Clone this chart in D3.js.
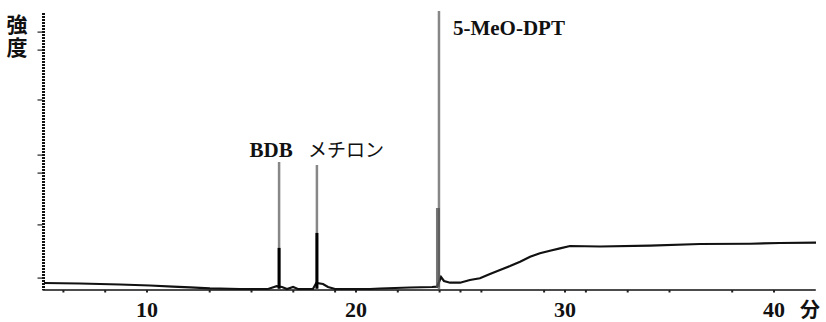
<!DOCTYPE html>
<html>
<head>
<meta charset="utf-8">
<script src="https://cdn.jsdelivr.net/npm/d3@7"></script>
<style>
  body { margin: 0; background: #fff; }
  .tick-label { font-family: "Liberation Serif", serif; font-weight: bold; font-size: 22px; fill: #111; }
  .peak-label { font-family: "Liberation Serif", serif; font-weight: bold; font-size: 21px; fill: #111; }
  .jp { font-family: "Noto Sans CJK JP", sans-serif; fill: #111; }
</style>
</head>
<body>
<div id="chart"></div>
<script>
// retention time (min) and intensity (%) of the baseline trace
var traceTime = [5.07, 6.79, 8.71, 10.14, 11.24, 12.06, 13.01, 14.45, 15.79, 16.08, 16.2, 16.46, 16.7, 16.99, 17.22,
  17.94, 18.1, 18.42, 18.66, 19.0, 20.67, 21.15, 22.58, 23.64, 23.88, 24.07, 24.21, 24.5, 24.98, 25.45, 25.93,
  26.41, 26.89, 27.37, 27.85, 28.33, 28.8, 29.28, 29.76, 30.24, 31.68, 34.07, 36.46, 38.86, 40.29, 42.01];
var traceInt = [2.53, 2.35, 1.99, 1.62, 1.19, 0.97, 0.61, 0.36, 0.36, 1.08, 1.4, 1.08, 0.36, 1.08, 0.36,
  0.36, 2.53, 2.17, 1.08, 0.36, 0.36, 0.54, 0.9, 1.08, 1.2, 4.7, 3.25, 2.64, 2.64, 3.61, 4.22,
  5.78, 7.22, 8.66, 10.22, 12.02, 13.25, 14.19, 15.05, 15.88, 15.7, 15.99, 16.6, 16.7, 16.97, 17.08];

// peaks
var peakNames = ["BDB", "メチロン", "5-MeO-DPT"];
var peakTimes = [16.32, 18.13, 23.97];
var peakTops = [46.2, 45.1, 100.5];
var peakSolid = [15.2, 20.6, 29.6];

// axis ticks
var xLabels = [10, 20, 30, 40];
var xMinor = [6, 8, 10, 13, 15, 17, 19, 20, 22, 24, 25, 26, 29, 30, 31, 33, 35, 38, 40];
var yTicks = [93.1, 86.6, 68.6, 48.7, 42.2, 23.5, 4.3];

var width = 826, height = 322;

var x = d3.scaleLinear().domain([5, 42]).range([42.5, 815.8]);
var y = d3.scaleLinear().domain([0, 100]).range([290, 13]);

var svg = d3.select("#chart").append("svg")
  .attr("width", width)
  .attr("height", height);

// y axis (dotted look of the scanned original)
svg.append("line")
  .attr("x1", x(5) + 1).attr("x2", x(5) + 1)
  .attr("y1", y(100)).attr("y2", y(0))
  .attr("stroke", "#111")
  .attr("stroke-width", 3)
  .attr("stroke-dasharray", "2,1");

svg.selectAll(".ytick")
  .data(yTicks)
  .enter().append("line")
  .attr("class", "ytick")
  .attr("x1", x(5) - 5).attr("x2", x(5))
  .attr("y1", function(d) { return y(d); })
  .attr("y2", function(d) { return y(d); })
  .attr("stroke", "#222")
  .attr("stroke-width", 1.2);

// x axis
svg.append("line")
  .attr("x1", x(5)).attr("x2", x(42))
  .attr("y1", y(0)).attr("y2", y(0))
  .attr("stroke", "#111")
  .attr("stroke-width", 1.6);

svg.selectAll(".xminor")
  .data(xMinor)
  .enter().append("line")
  .attr("class", "xminor")
  .attr("x1", function(d) { return x(d); })
  .attr("x2", function(d) { return x(d); })
  .attr("y1", y(0)).attr("y2", y(0) + 2.5)
  .attr("stroke", "#222")
  .attr("stroke-width", 2);

svg.selectAll(".tick-label")
  .data(xLabels)
  .enter().append("text")
  .attr("class", "tick-label")
  .attr("x", function(d) { return x(d); })
  .attr("y", 317)
  .attr("text-anchor", "middle")
  .text(function(d) { return d; });

svg.append("text")
  .attr("class", "jp")
  .attr("x", 800).attr("y", 317)
  .style("font-size", "20px")
  .style("font-weight", "bold")
  .text("分");

// vertical axis title
svg.append("text")
  .attr("class", "jp")
  .attr("x", 17).attr("y", 14)
  .style("font-size", "21px")
  .style("font-weight", "bold")
  .style("writing-mode", "vertical-rl")
  .style("letter-spacing", "2px")
  .text("強度");

// baseline trace
var trace = traceTime.map(function(t, i) { return [t, traceInt[i]]; });
var line = d3.line()
  .x(function(d) { return x(d[0]); })
  .y(function(d) { return y(d[1]); });

svg.append("path")
  .datum(trace)
  .attr("d", line)
  .attr("fill", "none")
  .attr("stroke", "#111")
  .attr("stroke-width", 2.2);

// peaks: hatched upper part, solid lower part
peakTimes.forEach(function(t, i) {
  var px = x(t);
  svg.append("line")
    .attr("x1", px).attr("x2", px)
    .attr("y1", y(0.5)).attr("y2", y(peakTops[i]))
    .attr("stroke", "#111")
    .attr("stroke-width", 2.5)
    .attr("stroke-dasharray", "1,1");
  if (i < 2) {
    svg.append("line")
      .attr("x1", px).attr("x2", px)
      .attr("y1", y(0.5)).attr("y2", y(peakSolid[i]))
      .attr("stroke", "#000")
      .attr("stroke-width", 3);
  } else {
    svg.append("rect")
      .attr("x", px - 3).attr("width", 4)
      .attr("y", y(peakSolid[i]))
      .attr("height", y(1) - y(peakSolid[i]))
      .attr("fill", "#555")
      .attr("opacity", 0.8);
  }
});

// peak labels
var labelDx = [-8, 29, 14];
var labelY = [157, 157, 35];
peakNames.forEach(function(name, i) {
  svg.append("text")
    .attr("class", i == 1 ? "jp" : "peak-label")
    .attr("x", x(peakTimes[i]) + labelDx[i])
    .attr("y", labelY[i])
    .attr("text-anchor", i == 2 ? "start" : "middle")
    .style("font-size", i == 1 ? "19px" : null)
    .text(name);
});
</script>
</body>
</html>
